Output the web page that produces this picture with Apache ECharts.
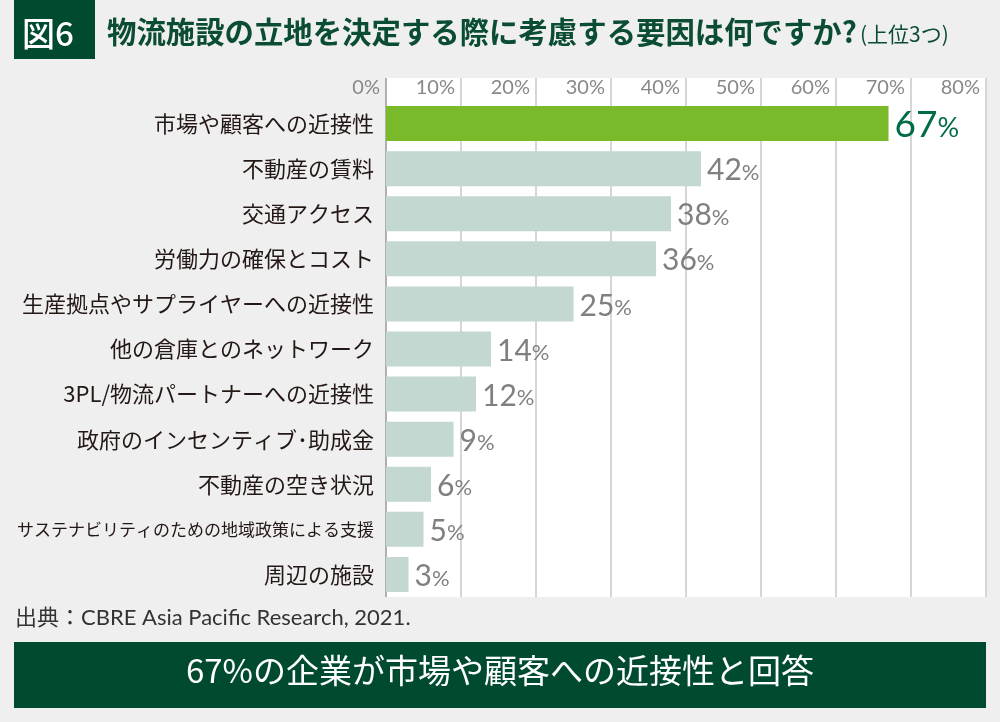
<!DOCTYPE html>
<html>
<head>
<meta charset="utf-8">
<script src="https://cdn.jsdelivr.net/npm/echarts@6/dist/echarts.min.js"></script>
<style>
  html, body { margin: 0; padding: 0; background: #efefef; }
  #chart { width: 1000px; height: 722px; }
</style>
</head>
<body>
<div id="chart"></div>
<script>
// data
var categories = [
  "市場や顧客への近接性",
  "不動産の賃料",
  "交通アクセス",
  "労働力の確保とコスト",
  "生産拠点やサプライヤーへの近接性",
  "他の倉庫とのネットワーク",
  "3PL/物流パートナーへの近接性",
  "政府のインセンティブ･助成金",
  "不動産の空き状況",
  "サステナビリティのための地域政策による支援",
  "周辺の施設"
];
var values = [67, 42, 38, 36, 25, 14, 12, 9, 6, 5, 3];
var axisMin = 0;
var axisMax = 80;
var axisStep = 10;

var titleText = "物流施設の立地を決定する際に考慮する要因は何ですか?";
var titleNote = "(上位3つ)";
var figLabel = "図6";
var sourceText = "出典：CBRE Asia Pacific Research, 2021.";
var bannerText = "67%の企業が市場や顧客への近接性と回答";

var darkGreen = "#004a30";
var barGreen = "#7aba2a";
var barGrey = "#c2d8d0";
var jp = "'Noto Sans CJK JP', sans-serif";
var num = "Lato, 'Noto Sans CJK JP', sans-serif";

var chart = echarts.init(document.getElementById("chart"));

var gridColors = ["#b0b0b0"];
for (var i = 1; i <= (axisMax - axisMin) / axisStep; i++) gridColors.push("#d6d6d6");

var barData = values.map(function (v, i) {
  return {
    value: v,
    itemStyle: { color: i === 0 ? barGreen : barGrey }
  };
});

var option = {
  backgroundColor: "#efefef",
  animation: false,
  grid: [
    { left: 386, right: 14, top: 78, bottom: 125, show: true, backgroundColor: "#fff", borderWidth: 0 },
    { left: 386, right: 14, top: 101, bottom: 125 }
  ],
  xAxis: [
    {
      gridIndex: 0,
      type: "value",
      position: "top",
      min: axisMin,
      max: axisMax,
      interval: axisStep,
      axisLine: { show: false },
      axisTick: { show: false },
      splitLine: { show: true, lineStyle: { color: gridColors, width: 2 } },
      axisLabel: {
        inside: true,
        margin: 10,
        align: "right",
        verticalAlign: "middle",
        padding: [0, 6, 0, 0],
        showMinLabel: true,
        showMaxLabel: true,
        color: "#888",
        fontFamily: num,
        fontSize: 20,
        formatter: "{value}%"
      }
    },
    {
      gridIndex: 1,
      type: "value",
      min: axisMin,
      max: axisMax,
      show: false
    }
  ],
  yAxis: [
    {
      gridIndex: 0,
      type: "value",
      show: false
    },
    {
      gridIndex: 1,
      type: "category",
      inverse: true,
      data: categories,
      axisLine: { show: false },
      axisTick: { show: false },
      axisLabel: {
        margin: 12,
        color: "#231815",
        fontFamily: jp,
        formatter: function (v) {
          return v.length > 18 ? "{s|" + v + "}" : "{m|" + v + "}";
        },
        rich: {
          m: { fontSize: 22, fontFamily: jp, color: "#231815" },
          s: { fontSize: 17, fontFamily: jp, color: "#231815" }
        }
      }
    }
  ],
  series: [
    {
      type: "bar",
      xAxisIndex: 1,
      yAxisIndex: 1,
      data: barData,
      barWidth: 35,
      label: {
        show: true,
        position: "right",
        distance: 6,
        formatter: function (p) {
          return p.dataIndex === 0
            ? "{a|" + p.value + "}{b|%}"
            : "{n|" + p.value + "}{p|%}";
        },
        rich: {
          a: { fontFamily: num, fontSize: 37, color: "#006b48", verticalAlign: "bottom", lineHeight: 40 },
          b: { fontFamily: num, fontSize: 27, color: "#006b48", verticalAlign: "bottom", lineHeight: 40, padding: [0, 0, 2, 0] },
          n: { fontFamily: num, fontSize: 30, color: "#808080", verticalAlign: "bottom", lineHeight: 34 },
          p: { fontFamily: num, fontSize: 22, color: "#808080", verticalAlign: "bottom", lineHeight: 34, padding: [0, 0, 2, 0] }
        }
      }
    }
  ],
  graphic: [
    { type: "rect", left: 14, top: 0, shape: { width: 81, height: 59 }, style: { fill: darkGreen } },
    {
      type: "text", left: 22, top: 17,
      style: { text: figLabel, fill: "#fff", font: "500 33px " + jp }
    },
    {
      type: "text", left: 107, top: 17,
      style: { text: titleText, fill: "#0b4d33", font: "bold 29.4px " + jp }
    },
    {
      type: "text", left: 860, top: 24,
      style: { text: titleNote, fill: "#0b4d33", font: "21px " + jp }
    },
    {
      type: "text", left: 15, top: 607,
      style: { text: sourceText, fill: "#333", font: "22px " + num }
    },
    { type: "rect", left: 14, top: 642, shape: { width: 972, height: 66 }, style: { fill: darkGreen } },
    {
      type: "text", left: "center", top: 654,
      style: { text: bannerText, fill: "#fff", font: "33px " + jp }
    }
  ]
};

chart.setOption(option);
</script>
</body>
</html>
